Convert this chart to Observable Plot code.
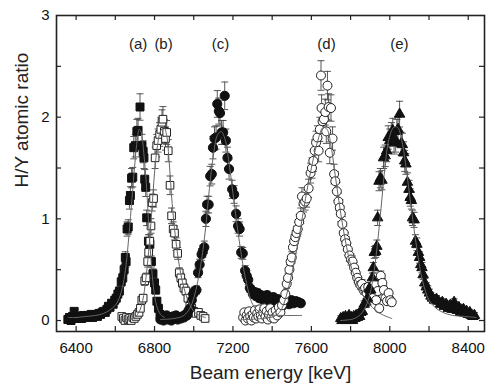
<!DOCTYPE html>
<html>
<head>
<meta charset="utf-8">
<script src="https://cdn.jsdelivr.net/npm/d3@7"></script>
<script src="https://cdn.jsdelivr.net/npm/@observablehq/plot@0.6"></script>
<style>
  html, body { margin: 0; padding: 0; background: #fff; }
  #chart { width: 486px; height: 385px; }
</style>
</head>
<body>
<div id="chart"></div>
<script>
// ---- Data ----
// (a) filled squares
const seriesA = [[6358,0.01],[6366,0.03],[6374,0.0],[6382,0.04],[6390,0.09],[6397,0.03],[6405,0.02],[6413,0.04],[6421,0.03],[6429,0.02],[6437,0.05],[6445,0.04],[6453,0.03],[6461,0.05],[6469,0.04],[6477,0.06],[6485,0.03],[6493,0.05],[6501,0.06],[6509,0.04],[6517,0.07],[6525,0.06],[6533,0.08],[6541,0.09],[6549,0.08],[6557,0.11],[6565,0.14],[6573,0.13],[6581,0.17],[6589,0.16],[6597,0.2],[6605,0.22],[6613,0.26],[6621,0.29],[6630,0.38],[6638,0.42],[6645,0.5],[6651,0.62],[6655,0.58],[6660,0.9],[6666,0.92],[6672,1.18],[6677,1.23],[6683,1.4],[6689,1.41],[6694,1.7],[6702,1.72],[6710,1.86],[6716,1.87],[6726,2.1],[6736,1.72],[6742,1.66],[6746,1.6],[6750,1.39],[6755,1.31],[6760,1.01],[6769,0.78],[6776,0.75],[6784,0.58],[6792,0.46],[6800,0.37],[6806,0.3],[6812,0.19],[6820,0.12],[6828,0.06]];
// (b) open squares
const seriesB = [[6633,0.04],[6641,0.02],[6649,0.0],[6657,0.03],[6665,0.01],[6673,0.02],[6681,0.0],[6689,0.03],[6697,0.02],[6705,0.04],[6713,0.06],[6721,0.08],[6728,0.12],[6735,0.2],[6742,0.22],[6750,0.39],[6757,0.42],[6765,0.58],[6770,0.67],[6776,0.78],[6782,0.93],[6788,1.16],[6795,1.2],[6803,1.6],[6811,1.72],[6818,1.77],[6826,1.83],[6832,1.88],[6838,1.95],[6843,1.98],[6850,1.86],[6856,1.79],[6862,1.85],[6870,1.67],[6879,1.33],[6887,1.03],[6895,0.9],[6902,0.86],[6910,0.75],[6918,0.66],[6926,0.47],[6934,0.42],[6942,0.37],[6950,0.32],[6960,0.29],[6970,0.22],[6980,0.14],[6990,0.12],[7000,0.09],[7012,0.07],[7024,0.08],[7036,0.05],[7048,0.04],[7058,0.02]];
// (c) filled circles
const seriesC = [[6830,0.01],[6838,0.04],[6846,0.0],[6854,0.02],[6862,0.05],[6870,0.01],[6878,0.03],[6886,0.0],[6894,0.04],[6902,0.02],[6910,0.05],[6918,0.01],[6926,0.03],[6934,0.02],[6942,0.04],[6950,0.03],[6958,0.06],[6966,0.05],[6974,0.1],[6982,0.12],[6990,0.2],[6997,0.26],[7005,0.29],[7014,0.3],[7022,0.47],[7030,0.55],[7040,0.65],[7046,0.68],[7054,0.72],[7062,1.0],[7068,1.14],[7076,1.14],[7084,1.42],[7092,1.44],[7098,1.7],[7106,1.79],[7114,1.8],[7120,2.13],[7128,2.06],[7134,2.04],[7142,1.85],[7150,1.85],[7158,2.21],[7164,1.77],[7172,1.6],[7180,1.49],[7196,1.29],[7206,1.24],[7216,1.05],[7226,0.93],[7234,0.9],[7242,0.67],[7250,0.66],[7262,0.49],[7270,0.44],[7278,0.4],[7286,0.32],[7294,0.3],[7302,0.26],[7310,0.28],[7318,0.24],[7326,0.27],[7334,0.22],[7342,0.25],[7350,0.21],[7358,0.24],[7366,0.22],[7374,0.25],[7382,0.2],[7390,0.22],[7398,0.18],[7406,0.23],[7414,0.2],[7422,0.17],[7430,0.21],[7438,0.19],[7450,0.14],[7462,0.17],[7474,0.2],[7486,0.16],[7498,0.2],[7510,0.17],[7522,0.19],[7534,0.18],[7546,0.17]];
// (d) open circles
const seriesD = [[7252,0.03],[7258,0.08],[7264,0.0],[7270,0.05],[7276,0.02],[7282,0.09],[7288,0.04],[7294,0.0],[7300,0.06],[7306,0.03],[7312,0.1],[7318,0.02],[7324,0.07],[7330,0.04],[7336,0.11],[7342,0.05],[7348,0.02],[7354,0.08],[7360,0.12],[7366,0.04],[7372,0.09],[7378,0.01],[7384,0.06],[7390,0.12],[7396,0.03],[7402,0.08],[7410,0.02],[7418,0.1],[7426,0.05],[7434,0.13],[7442,0.08],[7450,0.15],[7460,0.2],[7467,0.26],[7474,0.36],[7481,0.42],[7488,0.5],[7494,0.58],[7500,0.62],[7506,0.72],[7512,0.78],[7518,0.82],[7524,0.86],[7530,0.9],[7538,0.97],[7546,1.03],[7552,1.22],[7560,1.15],[7568,1.17],[7576,1.2],[7586,1.3],[7596,1.45],[7603,1.5],[7610,1.57],[7617,1.67],[7624,1.75],[7631,1.8],[7637,1.67],[7643,1.88],[7649,2.41],[7652,2.09],[7657,1.96],[7664,1.98],[7671,2.05],[7676,1.86],[7682,2.31],[7688,2.1],[7694,1.65],[7700,2.09],[7708,1.79],[7716,1.44],[7722,1.37],[7730,1.27],[7738,1.17],[7745,1.11],[7750,1.05],[7758,0.95],[7765,0.86],[7772,0.8],[7778,0.76],[7786,0.7],[7794,0.64],[7802,0.6],[7810,0.58],[7818,0.52],[7826,0.47],[7834,0.42],[7842,0.38],[7850,0.35],[7858,0.36],[7866,0.3],[7874,0.32],[7882,0.27],[7890,0.33],[7898,0.28],[7906,0.31],[7914,0.22],[7922,0.36],[7930,0.2],[7938,0.29],[7946,0.12],[7954,0.44],[7962,0.37],[7970,0.3],[7978,0.22],[7986,0.19],[7994,0.27],[8002,0.2],[8010,0.18]];
// (e) filled triangles
const seriesE = [[7750,0.02],[7756,0.0],[7762,0.03],[7768,0.01],[7774,0.04],[7780,0.0],[7786,0.02],[7792,0.05],[7798,0.01],[7804,0.03],[7810,0.0],[7816,0.04],[7822,0.02],[7828,0.05],[7834,0.03],[7840,0.06],[7846,0.04],[7852,0.08],[7860,0.09],[7869,0.16],[7878,0.18],[7886,0.22],[7894,0.31],[7903,0.3],[7911,0.42],[7916,0.52],[7921,0.67],[7928,0.68],[7934,0.73],[7938,1.01],[7945,1.37],[7952,1.4],[7960,1.38],[7968,1.6],[7976,1.62],[7984,1.67],[7992,1.8],[8000,1.77],[8008,1.83],[8015,1.87],[8022,1.75],[8030,1.77],[8036,1.86],[8042,1.88],[8050,2.03],[8058,1.74],[8064,1.73],[8070,1.65],[8076,1.57],[8082,1.54],[8090,1.36],[8098,1.29],[8104,1.21],[8110,1.18],[8116,1.01],[8124,0.99],[8131,0.78],[8138,0.75],[8146,0.67],[8152,0.62],[8158,0.55],[8164,0.52],[8170,0.45],[8178,0.37],[8186,0.33],[8194,0.3],[8202,0.27],[8210,0.24],[8218,0.22],[8228,0.2],[8238,0.21],[8248,0.19],[8258,0.16],[8268,0.18],[8278,0.14],[8288,0.16],[8298,0.12],[8308,0.15],[8318,0.11],[8328,0.18],[8336,0.12],[8344,0.1],[8352,0.13],[8360,0.08],[8368,0.1],[8376,0.11],[8384,0.07],[8392,0.09],[8400,0.06],[8408,0.08],[8416,0.05],[8424,0.04],[8432,0.05]];

// fitted curves
const fitA = [[6360,0.03],[6400,0.03],[6450,0.04],[6500,0.05],[6540,0.07],[6570,0.1],[6600,0.15],[6620,0.22],[6640,0.36],[6655,0.55],[6670,0.85],[6685,1.2],[6700,1.55],[6712,1.78],[6722,1.88],[6732,1.85],[6745,1.65],[6758,1.35],[6770,0.95],[6782,0.6],[6795,0.32],[6810,0.15],[6830,0.06],[6850,0.03]];
const fitB = [[6630,0.01],[6690,0.02],[6720,0.08],[6740,0.2],[6755,0.4],[6770,0.68],[6785,1.05],[6800,1.45],[6815,1.72],[6830,1.86],[6848,1.9],[6862,1.82],[6875,1.55],[6890,1.15],[6905,0.85],[6920,0.62],[6935,0.45],[6950,0.32],[6970,0.2],[6990,0.12],[7010,0.07],[7040,0.04],[7060,0.03]];
const fitC = [[6830,0.01],[6900,0.02],[6950,0.05],[6980,0.12],[7000,0.22],[7020,0.38],[7040,0.6],[7060,0.9],[7080,1.3],[7100,1.62],[7120,1.82],[7140,1.86],[7160,1.78],[7180,1.55],[7200,1.25],[7220,0.95],[7240,0.68],[7260,0.45],[7280,0.28],[7300,0.16],[7330,0.09],[7370,0.06],[7450,0.05],[7550,0.05]];
const fitD = [[7250,0.01],[7350,0.02],[7420,0.05],[7450,0.12],[7480,0.3],[7510,0.55],[7540,0.85],[7570,1.2],[7600,1.5],[7630,1.75],[7660,1.9],[7680,1.88],[7700,1.72],[7720,1.45],[7740,1.18],[7760,0.93],[7780,0.72],[7800,0.55],[7830,0.38],[7860,0.26],[7900,0.15],[7950,0.07],[8010,0.02]];
const fitE = [[7750,0.0],[7820,0.02],[7860,0.08],[7890,0.2],[7915,0.42],[7935,0.72],[7955,1.1],[7975,1.5],[7995,1.78],[8020,1.9],[8040,1.9],[8060,1.78],[8080,1.55],[8100,1.25],[8120,0.95],[8140,0.68],[8160,0.45],[8180,0.3],[8200,0.2],[8230,0.13],[8270,0.08],[8320,0.05],[8380,0.04],[8440,0.03]];

const peakNames = ["(a)", "(b)", "(c)", "(d)", "(e)"];
const peakLabelX = [6716, 6846, 7136, 7677, 8049];
const peakLabelY = [2.72, 2.72, 2.72, 2.72, 2.72];

const xTickLabels = [6400, 6800, 7200, 7600, 8000, 8400];
const xTicksAll = [6400, 6600, 6800, 7000, 7200, 7400, 7600, 7800, 8000, 8200, 8400];
const yTickLabels = [0, 1, 2, 3];
const yTicksAll = [0, 0.5, 1, 1.5, 2, 2.5];

const xTitle = "Beam energy [keV]";
const yTitle = "H/Y atomic ratio";

// ---- Styling ----
const W = 486, H = 385;
const mL = 56, mR = 2, mT = 15, mB = 54;
const frameW = W - mL - mR, frameH = H - mT - mB;
const tickLen = 5;
const relErr = 0.05, absErr = 0.025; // error-bar size model

const styles = [
  {data: seriesA, symbol: "square", r: 4.5, fill: "#111", stroke: "#111"},
  {data: seriesB, symbol: "square", r: 4.3, fill: "#fff", stroke: "#222"},
  {data: seriesC, symbol: "circle", r: 4.6, fill: "#111", stroke: "#111"},
  {data: seriesD, symbol: "circle", r: 4.5, fill: "#fff", stroke: "#222"},
  {data: seriesE, symbol: "triangle", r: 3.9, fill: "#111", stroke: "#111"}
];
const fits = [fitA, fitB, fitC, fitD, fitE];

const allPts = styles.flatMap(s => s.data.map(([x, y]) => ({x, y, e: absErr + relErr * y})));

const capSymbol = {
  draw(context) {
    context.moveTo(-3.5, 0);
    context.lineTo(3.5, 0);
  }
};

const peakLabels = peakNames.map((t, i) => ({t, x: peakLabelX[i], y: peakLabelY[i]}));

const marks = [];
// error bars
marks.push(Plot.ruleX(allPts, {x: "x", y1: d => d.y - d.e, y2: d => d.y + d.e, stroke: "#444", strokeWidth: 0.9}));
marks.push(Plot.dot(allPts, {x: "x", y: d => d.y + d.e, symbol: capSymbol, stroke: "#444", strokeWidth: 0.9, fill: "none"}));
marks.push(Plot.dot(allPts, {x: "x", y: d => d.y - d.e, symbol: capSymbol, stroke: "#444", strokeWidth: 0.9, fill: "none"}));
// markers
for (const s of styles) {
  marks.push(Plot.dot(s.data, {x: d => d[0], y: d => d[1], symbol: s.symbol, r: s.r, fill: s.fill, stroke: s.stroke, strokeWidth: 1}));
}
// fit lines
for (const f of fits) {
  marks.push(Plot.line(f, {x: d => d[0], y: d => d[1], stroke: "#666", strokeWidth: 1, curve: "catmull-rom"}));
}
// frame and inward ticks
marks.push(Plot.frame({stroke: "#222", strokeWidth: 1.6}));
marks.push(Plot.ruleX(xTicksAll, {x: d => d, insetTop: frameH - tickLen, stroke: "#222", strokeWidth: 1.2}));
marks.push(Plot.ruleX(xTicksAll, {x: d => d, insetBottom: frameH - tickLen, stroke: "#222", strokeWidth: 1.2}));
marks.push(Plot.ruleY(yTicksAll, {y: d => d, insetRight: frameW - tickLen, stroke: "#222", strokeWidth: 1.2}));
marks.push(Plot.ruleY(yTicksAll, {y: d => d, insetLeft: frameW - tickLen, stroke: "#222", strokeWidth: 1.2}));
// axes labels
marks.push(Plot.axisX(xTickLabels, {tickSize: 0, tickPadding: 11, fontSize: 15, fill: "#111", label: null, tickFormat: d => String(d)}));
marks.push(Plot.axisY(yTickLabels, {tickSize: 0, tickPadding: 7, fontSize: 15, fill: "#111", label: null, tickFormat: d => String(d)}));
// titles
marks.push(Plot.text([xTitle], {frameAnchor: "bottom", dy: 47, fontSize: 19, fill: "#222", text: d => d}));
marks.push(Plot.text([yTitle], {frameAnchor: "left", dx: -35, dy: 14, rotate: -90, fontSize: 19, fill: "#222", text: d => d}));
// peak labels
marks.push(Plot.text(peakLabels, {x: "x", y: "y", text: "t", fontSize: 15, fill: "#222"}));

const chart = Plot.plot({
  width: W,
  height: H,
  marginLeft: mL,
  marginRight: mR,
  marginTop: mT,
  marginBottom: mB,
  style: {fontFamily: "'Liberation Sans', Arial, sans-serif", color: "#222", background: "#fff"},
  x: {domain: [6300, 8483], axis: null},
  y: {domain: [-0.108, 3], axis: null},
  marks
});
document.getElementById("chart").appendChild(chart);
</script>
</body>
</html>
